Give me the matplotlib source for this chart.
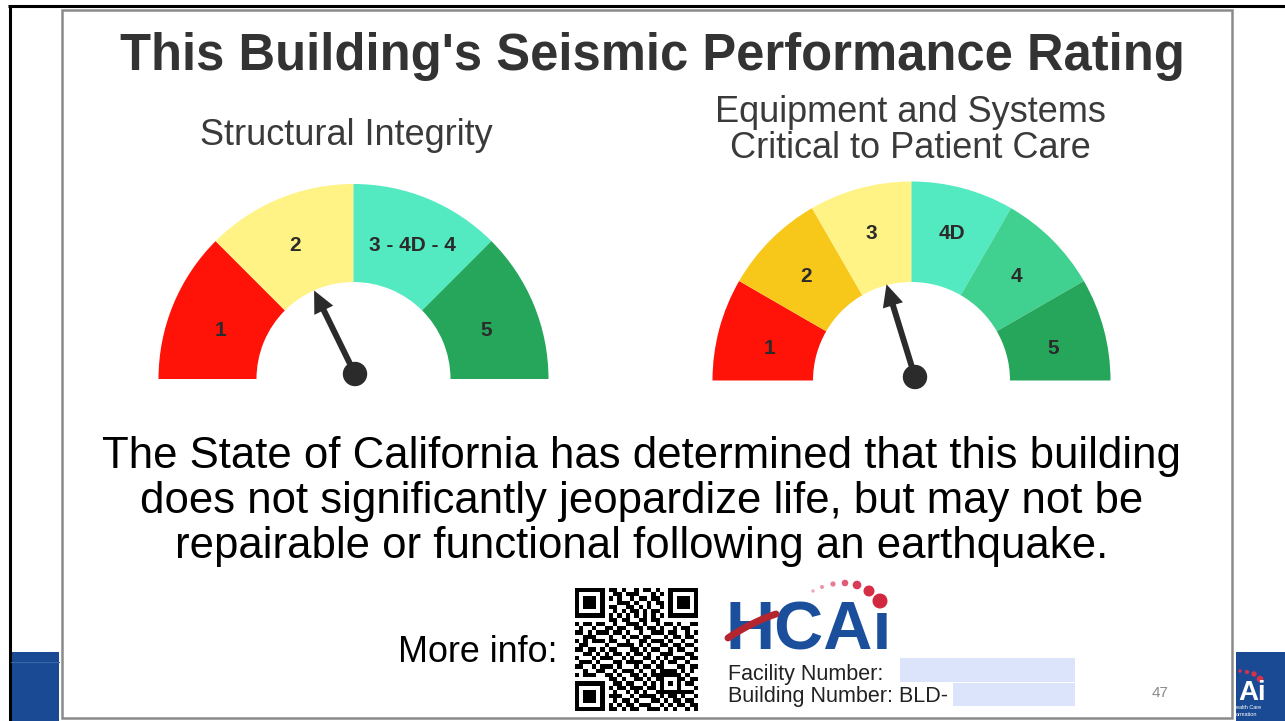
import matplotlib
matplotlib.use("Agg")
import matplotlib.pyplot as plt
from matplotlib.patches import Wedge, Rectangle, Circle, FancyArrow
from matplotlib import font_manager
import numpy as np

# --- data ---
left_labels = ["1", "2", "3 - 4D - 4", "5"]
left_colors = ["#FF1208", "#FFF385", "#53E9C1", "#26A65B"]
left_needle = 1.42      # needle position, counted in segments from the left end

right_labels = ["1", "2", "3", "4D", "4", "5"]
right_colors = ["#FF1208", "#F7C81A", "#FFF385", "#53E9C1", "#40D190", "#26A65B"]
right_needle = 2.43

title = "This Building's Seismic Performance Rating"
left_title = ["Structural Integrity"]
right_title = ["Equipment and Systems", "Critical to Patient Care"]
body = ["The State of California has determined that this building",
        "does not significantly jeopardize life, but may not be",
        "repairable or functional following an earthquake."]

# QR-like pattern (finders stamped on later)
qr_body = [
    "00000000110100101101000000000",
    "00000000011011100010100000000",
    "00000000101001011011000000000",
    "00000000001110100101100000000",
    "00000000110011010100100000000",
    "00000000010101101011000000000",
    "00000000101010101010100000000",
    "00000000110110011011000000000",
    "10110110010011101001011010011",
    "01001001101100110110100101100",
    "11010111011010010011101100101",
    "00111000100101101100010110110",
    "10101110110010011011101001001",
    "01100001001111010100110110110",
    "11011010110001101011001011001",
    "00110101011010110100111000110",
    "10001011100101001101010111011",
    "01110100011011110010101100100",
    "11001011101000101101100011011",
    "00100110010111010010111101010",
    "10111001101001101011011110100",
    "00000000110100110101100011011",
    "00000000011011001010101010110",
    "00000000101101110110111110001",
    "00000000010010101001010011110",
    "00000000111001011110101101001",
    "00000000010110100011010110110",
    "00000000101011011100101011011",
    "00000000110101100111010100101",
]

names = {f.name for f in font_manager.fontManager.ttflist}
narrow = "Liberation Sans Narrow" if "Liberation Sans Narrow" in names else "Liberation Sans"
plt.rcParams["font.family"] = ["Liberation Sans", "DejaVu Sans"]

fig = plt.figure(figsize=(12.85, 7.21), dpi=100)
ax = fig.add_axes([0, 0, 1, 1])
ax.set_xlim(0, 1285)
ax.set_ylim(721, 0)
ax.axis("off")

# --- slide frame ---
ax.plot([8, 1285], [5.5, 5.5], color="black", lw=2.2, solid_capstyle="butt")
ax.plot([9.5, 9.5], [5, 721], color="black", lw=2.2, solid_capstyle="butt")
ax.add_patch(Rectangle((62, 10), 1170, 708, facecolor="white", edgecolor="#8a8a8a", lw=1.8))
ax.add_patch(Rectangle((11, 652), 48, 69, facecolor="#1A4A94", edgecolor="none"))
ax.plot([11, 59], [662, 662], color="#3a64a8", lw=0.8)
ax.add_patch(Rectangle((1236, 652), 49, 69, facecolor="#1A4A94", edgecolor="none"))
ax.text(1238, 700, "Ai", color="white", fontsize=20, fontweight="bold", va="baseline")
ax.text(1236, 709, "ealth Care", color="white", fontsize=4, va="baseline")
ax.text(1236, 716, "ormation", color="white", fontsize=4, va="baseline")
for x, y, r in [(1240, 671, 1.0), (1247, 672, 1.4), (1254, 674, 2.0), (1260, 679, 2.6)]:
    ax.add_patch(Circle((x, y), r, color="#D9304A"))

# --- titles ---
ax.text(652, 70, title, ha="center", va="baseline", fontsize=36.5,
        fontweight="bold", color="#333333")
ax.text(346, 145, left_title[0], ha="center", va="baseline", fontsize=26, color="#3a3a3a")
for i, line in enumerate(right_title):
    ax.text(910, 122 + 36 * i, line, ha="center", va="baseline", fontsize=26, color="#3a3a3a")


def gauge(cx, cy, r_out, r_in, labels, colors, needle, lab_rx, lab_ry, lab_dy, lab_da,
          pivot, length):
    n = len(labels)
    step = 180.0 / n
    for i, (lab, col) in enumerate(zip(labels, colors)):
        a1 = 180 - i * step
        a2 = a1 - step
        # y axis runs downwards, so the angles are negated
        ax.add_patch(Wedge((cx, cy), r_out, -a1, -a2, width=r_out - r_in,
                           facecolor=col, edgecolor="none"))
        am = a1 - step / 2
        am = np.radians(am + (lab_da if am > 90 else -lab_da))
        ax.text(cx + lab_rx * np.cos(am), cy + lab_dy - lab_ry * np.sin(am), lab,
                ha="center", va="center", fontsize=15, fontweight="bold", color="#2b2b2b")
    an = np.radians(180 - needle * step)
    px, py = pivot
    ax.add_patch(FancyArrow(px, py, length * np.cos(an), -length * np.sin(an),
                            width=6, head_width=21, head_length=22,
                            length_includes_head=True, color="#2b2b2b", lw=0))
    ax.add_patch(Circle((px, py), 11.5, color="#2b2b2b"))


gauge(353.5, 379, 195, 97, left_labels, left_colors, left_needle,
      142, 152, 5, 2, (355, 374), 93)
gauge(911.5, 380.5, 199, 98.5, right_labels, right_colors, right_needle,
      146, 160, 7, 1, (915, 377), 97)

# --- statement ---
for i, line in enumerate(body):
    ax.text(641.5, 468 + 45 * i, line, ha="center", va="baseline", fontsize=31.5, color="black")

# --- footer ---
ax.text(478, 662, "More info:", ha="center", va="baseline", fontsize=25.8, color="black")

n = len(qr_body)
qr = np.array([[int(c) for c in row.ljust(n, "0")[:n]] for row in qr_body])
finder = np.array([[1, 1, 1, 1, 1, 1, 1],
                   [1, 0, 0, 0, 0, 0, 1],
                   [1, 0, 1, 1, 1, 0, 1],
                   [1, 0, 1, 1, 1, 0, 1],
                   [1, 0, 1, 1, 1, 0, 1],
                   [1, 0, 0, 0, 0, 0, 1],
                   [1, 1, 1, 1, 1, 1, 1]])
qr[0:7, 0:7] = finder
qr[0:7, n - 7:] = finder
qr[n - 7:, 0:7] = finder
qr[20:25, 20:25] = np.array([[1, 1, 1, 1, 1],
                             [1, 0, 0, 0, 1],
                             [1, 0, 1, 0, 1],
                             [1, 0, 0, 0, 1],
                             [1, 1, 1, 1, 1]])
qx, qy, qs = 575, 588, 123
ax.imshow(1 - qr, cmap="gray", vmin=0, vmax=1, extent=(qx, qx + qs, qy + qs, qy),
          interpolation="nearest", zorder=3)

# HCAi logo
ax.text(726, 650, "HCA\u0131", ha="left", va="baseline", fontsize=49, fontweight="bold",
        family=[narrow, "DejaVu Sans"], color="#1B4F9C")
t = np.linspace(0, 1, 30)
sx = 728 + 48 * t
sy = 638 - 24 * t - 8 * t * (1 - t)
ax.plot(sx, sy, color="#B5252F", lw=5, solid_capstyle="round", zorder=4)
for x, y, r, c in [(813, 591, 1.0, "#F0A8B8"), (822, 587, 1.3, "#EC94A8"),
                   (833, 584, 1.9, "#E77C93"), (845, 583, 2.6, "#E25A75"),
                   (857, 585, 3.6, "#DC3B57"), (869, 591, 4.8, "#D62E47"),
                   (880, 601, 6.8, "#D0283F")]:
    ax.add_patch(Circle((x, y), r, color=c, zorder=4))

ax.add_patch(Rectangle((900, 658), 175, 24, facecolor="#DCE4FC", edgecolor="none"))
ax.add_patch(Rectangle((953, 683), 122, 23, facecolor="#DCE4FC", edgecolor="none"))
ax.text(728, 680, "Facility Number:", ha="left", va="baseline", fontsize=15.5, color="#222222")
ax.text(728, 702, "Building Number: BLD-", ha="left", va="baseline", fontsize=15.5, color="#222222")
ax.text(1160, 697, "47", ha="center", va="baseline", fontsize=11, family=[narrow, "DejaVu Sans"],
        color="#8a8a8a")

fig.savefig("out.png", dpi=100)
